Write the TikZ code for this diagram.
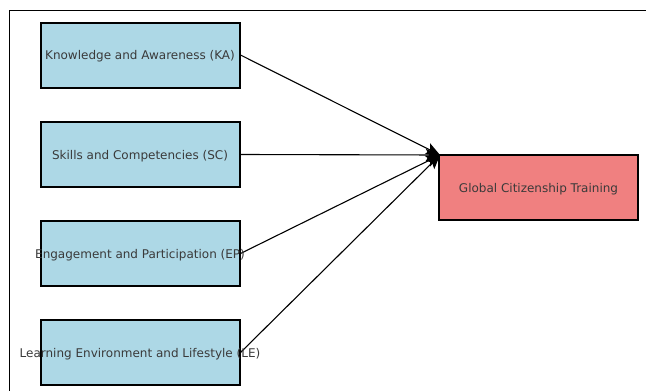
\documentclass[tikz,border=0pt]{standalone}
\usepackage{fontspec}
\setmainfont{DejaVu Sans}
\usetikzlibrary{arrows.meta}
\definecolor{lblue}{HTML}{ADD8E6}
\definecolor{lcoral}{HTML}{F08080}
\definecolor{txt}{HTML}{3A3A3A}
\begin{document}
\begin{tikzpicture}[x=1pt,y=-1pt,
  box/.style={draw=black,line width=2pt,minimum width=199pt,minimum height=65pt,inner sep=0pt},
  lbl/.style={text=txt,font=\fontsize{12}{14}\selectfont,inner sep=0pt,yshift=-1.5pt},
  conn/.style={line width=1.1pt,-{Stealth[length=14pt,width=12pt,inset=3pt]}}]
\useasboundingbox (0,0) rectangle (646,391);
\draw[line width=1pt] (9.5,391) -- (9.5,10.5) -- (646,10.5);
\node[box,fill=lblue] (ka) at (140,55) {};
\node[lbl] (kat) at (140,55) {Knowledge and Awareness (KA)};
\node[box,fill=lblue] (sc) at (140,154.5) {};
\node[lbl] (sct) at (140,154.5) {Skills and Competencies (SC)};
\node[box,fill=lblue] (ep) at (140,253.5) {};
\node[box,fill=lcoral] (gct) at (538.5,187.5) {};
\node[lbl] (gctt) at (538.5,187.5) {Global Citizenship Training};
\node[box,fill=lblue] (le) at (140,352.5) {};
\coordinate (tip) at (440,155);
\draw[conn] (ka.east) -- (tip);
\draw[conn] (sc.east) -- (tip);
\draw[conn] (ep.east) -- (tip);
\draw[conn] (le.east) -- (tip);
\node[lbl] (ept) at (140,253.5) {Engagement and Participation (EP)};
\node[lbl] (let) at (140,352.5) {Learning Environment and Lifestyle (LE)};
\end{tikzpicture}
\end{document}
